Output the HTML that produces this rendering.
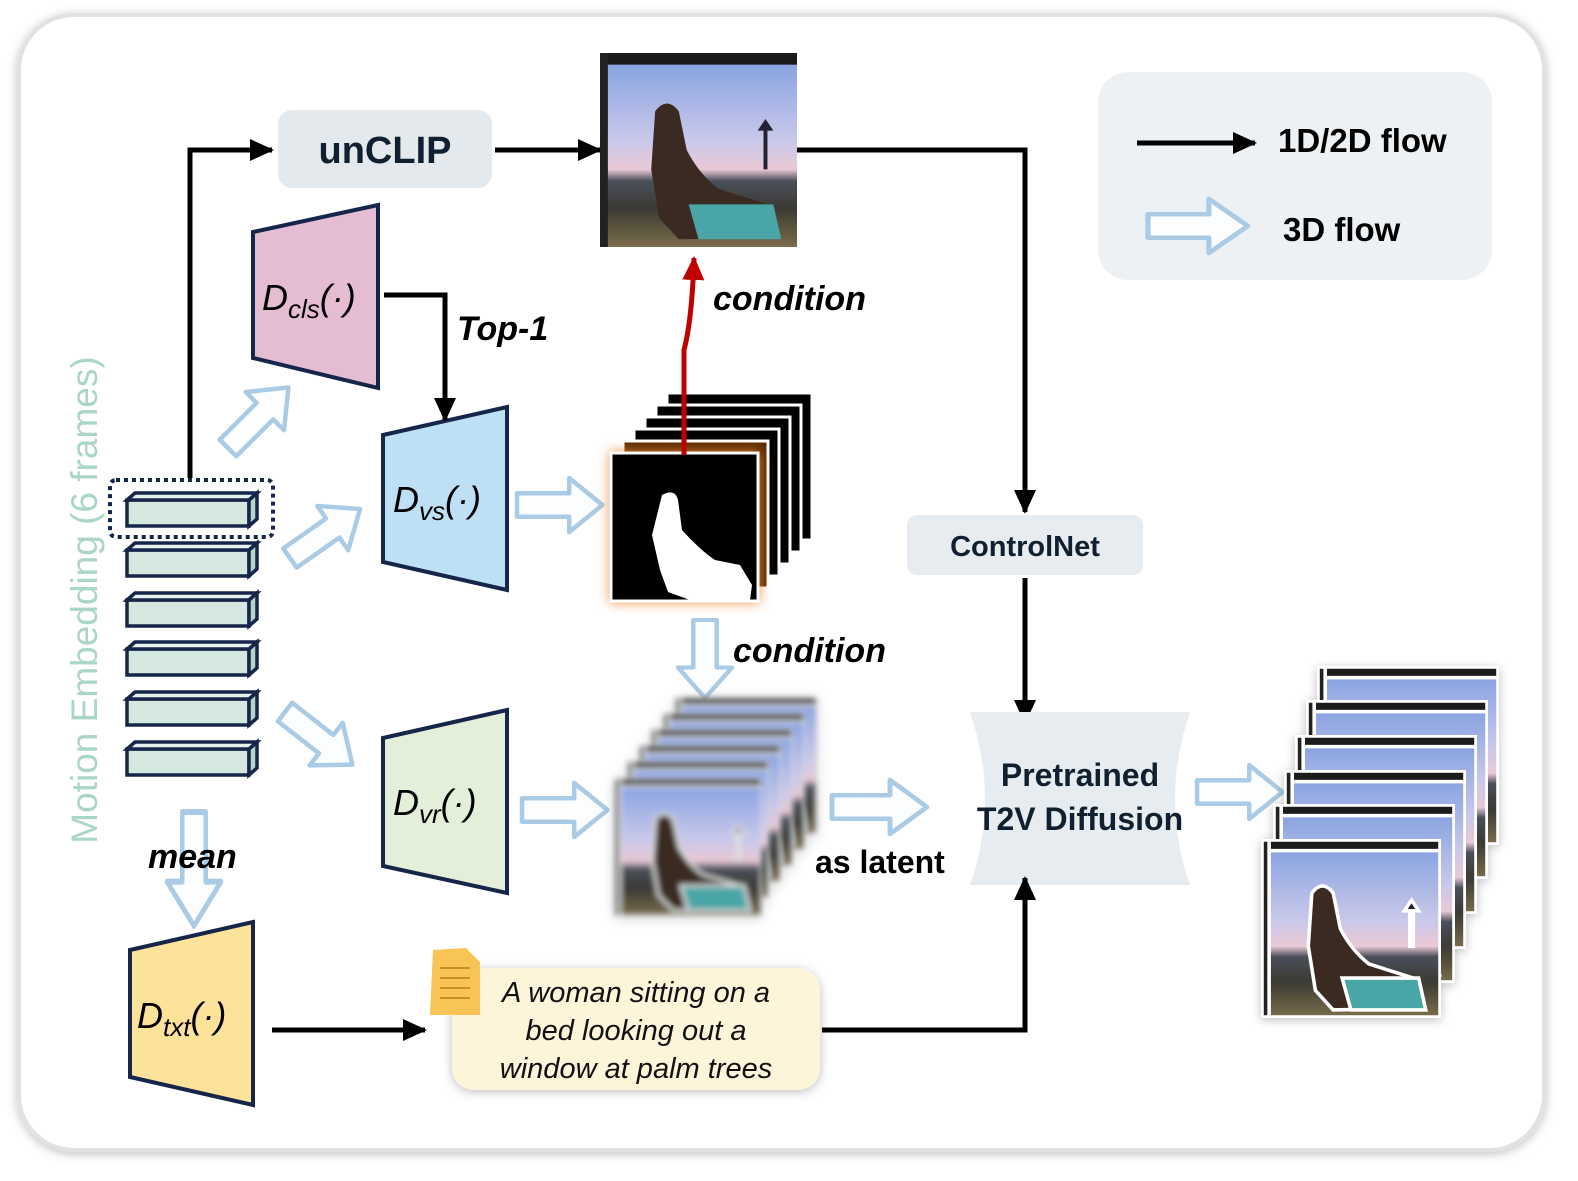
<!DOCTYPE html>
<html><head><meta charset="utf-8"><style>
html,body{margin:0;padding:0;background:#fff;}
svg{display:block;}
text{font-family:"Liberation Sans",sans-serif;}
</style></head><body>
<svg width="1578" height="1181" viewBox="0 0 1578 1181" xmlns="http://www.w3.org/2000/svg">
<defs>
 <filter id="sh" x="-10%" y="-10%" width="120%" height="120%"><feDropShadow dx="0" dy="2" stdDeviation="5" flood-color="#000" flood-opacity="0.25"/></filter>
 <filter id="blur"><feGaussianBlur stdDeviation="3"/></filter>
 <filter id="og"><feDropShadow dx="0" dy="0" stdDeviation="6" flood-color="#f08a3a" flood-opacity="0.9"/></filter>
 <linearGradient id="sky" x1="0" y1="0" x2="0" y2="1">
  <stop offset="0" stop-color="#7f9ee0"/><stop offset="0.45" stop-color="#c9c8ea"/><stop offset="0.6" stop-color="#e9c9d6"/><stop offset="0.66" stop-color="#4a4f5a"/><stop offset="0.8" stop-color="#3b3a34"/><stop offset="1" stop-color="#7a6d4a"/>
 </linearGradient>
 <symbol id="photo" viewBox="0 0 100 100" preserveAspectRatio="none">
  <rect width="100" height="100" fill="url(#sky)"/>
  <rect width="100" height="6" fill="#1a1a1a"/>
  <rect x="0" y="0" width="4" height="100" fill="#222"/>
  <path d="M28 30 Q34 22 40 30 L44 50 Q50 62 60 70 L85 78 L90 95 L40 96 L30 85 L26 60Z" fill="#3a2a22"/>
  <path d="M45 78 L88 78 L92 96 L50 96Z" fill="#4aa6a6"/>
  <path d="M80 40 l4 -6 l4 6 l-3 0 l0 20 l-2 0 l0 -20z" fill="#223"/>
 </symbol>
 <g id="harrow">
  <path d="M0 -13 L58 -13 L58 -30 L95 0 L58 30 L58 13 L0 13 Z" fill="#fbfdff" stroke="#a9cbe6" stroke-width="5" stroke-linejoin="round"/>
 </g>
 <marker id="ah" markerWidth="10" markerHeight="10" refX="8" refY="5" orient="auto" markerUnits="userSpaceOnUse" viewBox="0 0 10 10"><path d="M0 0 L10 5 L0 10Z" fill="#000"/></marker>
 <marker id="ahb" markerWidth="24" markerHeight="22" refX="22" refY="11" orient="auto" markerUnits="userSpaceOnUse"><path d="M0 0 L24 11 L0 22Z" fill="#000"/></marker>
 <marker id="ahr" markerWidth="24" markerHeight="22" refX="22" refY="11" orient="auto" markerUnits="userSpaceOnUse"><path d="M0 0 L24 11 L0 22Z" fill="#c00000"/></marker>
</defs>

<rect x="19" y="15" width="1525" height="1135" rx="55" fill="#fff" stroke="#e2e2e2" stroke-width="4" filter="url(#sh)"/>

<!-- legend -->
<rect x="1098" y="72" width="394" height="208" rx="30" fill="#eef1f4"/>
<line x1="1137" y1="143" x2="1255" y2="143" stroke="#000" stroke-width="5" marker-end="url(#ahb)"/>
<text x="1278" y="152" font-size="33" font-weight="bold">1D/2D flow</text>
<use href="#harrow" transform="translate(1148,226) scale(1.05,0.9)"/>
<text x="1283" y="241" font-size="33" font-weight="bold">3D flow</text>

<!-- unCLIP -->
<rect x="278" y="110" width="214" height="78" rx="14" fill="#e3e9ed"/>
<text x="385" y="163" font-size="38" font-weight="bold" text-anchor="middle" fill="#102030">unCLIP</text>
<polyline points="190,478 190,150 272,150" fill="none" stroke="#000" stroke-width="5" marker-end="url(#ahb)"/>
<line x1="495" y1="150" x2="600" y2="150" stroke="#000" stroke-width="5" marker-end="url(#ahb)"/>
<use href="#photo" x="600" y="53" width="197" height="194"/>
<polyline points="797,150 1025,150 1025,512" fill="none" stroke="#000" stroke-width="5" marker-end="url(#ahb)"/>

<!-- decoders -->
<polygon points="253,232 378,205 378,388 253,358" fill="#e5bdd3" stroke="#16254a" stroke-width="4"/>
<text x="262" y="310" font-size="36" font-family="Liberation Serif" font-style="italic">D<tspan font-size="26" dy="8">cls</tspan><tspan dy="-8">(·)</tspan></text>
<polygon points="383,435 507,407 507,590 383,562" fill="#bde0f5" stroke="#16254a" stroke-width="4"/>
<text x="393" y="512" font-size="36" font-family="Liberation Serif" font-style="italic">D<tspan font-size="26" dy="8">vs</tspan><tspan dy="-8">(·)</tspan></text>
<polygon points="383,738 507,710 507,893 383,866" fill="#e3efd9" stroke="#16254a" stroke-width="4"/>
<text x="393" y="815" font-size="36" font-family="Liberation Serif" font-style="italic">D<tspan font-size="26" dy="8">vr</tspan><tspan dy="-8">(·)</tspan></text>
<polygon points="130,950 253,922 253,1105 130,1077" fill="#fde29a" stroke="#16254a" stroke-width="4"/>
<text x="137" y="1028" font-size="36" font-family="Liberation Serif" font-style="italic">D<tspan font-size="26" dy="8">txt</tspan><tspan dy="-8">(·)</tspan></text>

<polyline points="384,295 445,295 445,420" fill="none" stroke="#000" stroke-width="5" marker-end="url(#ahb)"/>
<text x="457" y="340" font-size="34" font-weight="bold" font-style="italic" font-family="Liberation Serif">Top-1</text>

<!-- embeddings -->
<g stroke="#16254a" stroke-width="3.5" fill="#d4e8df">
 <g id="bar"><rect x="127" y="500" width="122" height="26"/><polygon points="249,500 257,493 257,519 249,526" fill="#b9d5c9"/><polygon points="127,500 135,493 257,493 249,500" fill="#e5f1ec"/></g>
 <use href="#bar" y="50"/><use href="#bar" y="100"/><use href="#bar" y="149"/><use href="#bar" y="199"/><use href="#bar" y="249"/>
</g>
<rect x="110" y="480" width="163" height="57" rx="6" fill="none" stroke="#16254a" stroke-width="4" stroke-dasharray="4,4"/>
<text transform="translate(97,600) rotate(-90)" font-size="37" fill="#a9d6c8" text-anchor="middle" font-family="Liberation Serif">Motion Embedding (6 frames)</text>

<!-- hollow arrows -->
<use href="#harrow" transform="translate(228,448) rotate(-45) scale(0.9)"/>
<use href="#harrow" transform="translate(290,558) rotate(-35) scale(0.9)"/>
<use href="#harrow" transform="translate(285,712) rotate(38) scale(0.9)"/>
<use href="#harrow" transform="translate(194,812) rotate(90) scale(1.2,0.9)"/>
<use href="#harrow" transform="translate(517,505) scale(0.9)"/>
<use href="#harrow" transform="translate(522,810) scale(0.9)"/>
<use href="#harrow" transform="translate(705,620) rotate(90) scale(0.82,0.9)"/>
<use href="#harrow" transform="translate(832,807) scale(1,0.9)"/>
<use href="#harrow" transform="translate(1197,792) scale(0.9)"/>

<text x="148" y="868" font-size="34" font-weight="bold" font-style="italic" font-family="Liberation Serif">mean</text>

<!-- mask stack -->
<g stroke="#fff" stroke-width="3">
 <rect x="667" y="393" width="145" height="147" fill="#000"/>
 <rect x="656" y="405" width="145" height="147" fill="#000"/>
 <rect x="645" y="417" width="145" height="147" fill="#000"/>
 <rect x="634" y="429" width="145" height="147" fill="#000"/>
 <rect x="623" y="441" width="145" height="147" fill="#5a2a00"/>
 <rect x="611" y="453" width="147" height="148" fill="#000" filter="url(#og)"/>
</g>
<path d="M662 495 Q675 488 678 500 L682 530 Q700 550 715 560 L740 565 L752 585 L750 600 L690 600 L668 592 L660 570 L652 535 Z" fill="#fff"/>
<path d="M684 455 L684 350 Q692 320 694 258" fill="none" stroke="#c00000" stroke-width="5" marker-end="url(#ahr)"/>
<text x="713" y="310" font-size="34" font-weight="bold" font-style="italic" font-family="Liberation Serif">condition</text>
<text x="733" y="662" font-size="34" font-weight="bold" font-style="italic" font-family="Liberation Serif">condition</text>

<!-- blurred stack -->
<g filter="url(#sh)">
 <g stroke="#ddd" stroke-width="2">
 <use href="#photo" x="675" y="697" width="142" height="137" filter="url(#blur)"/>
 <use href="#photo" x="663" y="713" width="142" height="137" filter="url(#blur)"/>
 <use href="#photo" x="651" y="729" width="142" height="137" filter="url(#blur)"/>
 <use href="#photo" x="639" y="745" width="142" height="137" filter="url(#blur)"/>
 <use href="#photo" x="627" y="761" width="142" height="137" filter="url(#blur)"/>
 <use href="#photo" x="614" y="778" width="148" height="138" filter="url(#blur)"/>
 </g>
</g>
<text x="815" y="873" font-size="32" font-weight="bold">as latent</text>

<!-- ControlNet -->
<rect x="907" y="515" width="236" height="60" rx="10" fill="#e6ecef"/>
<text x="1025" y="556" font-size="29" font-weight="bold" text-anchor="middle" fill="#102030">ControlNet</text>
<line x1="1025" y1="578" x2="1025" y2="722" stroke="#000" stroke-width="5" marker-end="url(#ahb)"/>
<path d="M970 712 L1190 712 Q1160 800 1190 885 L970 885 Q1000 800 970 712Z" fill="#e6ecef"/>
<text x="1080" y="786" font-size="32" font-weight="bold" text-anchor="middle" fill="#102030">Pretrained</text>
<text x="1080" y="830" font-size="32" font-weight="bold" text-anchor="middle" fill="#102030">T2V Diffusion</text>

<!-- text prompt -->
<line x1="272" y1="1030" x2="425" y2="1030" stroke="#000" stroke-width="5" marker-end="url(#ahb)"/>
<rect x="452" y="968" width="368" height="122" rx="22" fill="#fdf5d9" filter="url(#sh)"/>
<path d="M433 950 L466 948 L480 962 L480 1015 L430 1015Z" fill="#f7c455"/>
<g stroke="#c8902a" stroke-width="2"><line x1="440" y1="968" x2="470" y2="968"/><line x1="440" y1="978" x2="470" y2="978"/><line x1="440" y1="988" x2="470" y2="988"/><line x1="440" y1="998" x2="470" y2="998"/></g>
<g font-size="29" font-style="italic" text-anchor="middle" font-family="Liberation Serif" fill="#111">
<text x="636" y="1002">A woman sitting on a</text>
<text x="636" y="1040">bed looking out a</text>
<text x="636" y="1078">window at palm trees</text>
</g>
<polyline points="822,1030 1025,1030 1025,878" fill="none" stroke="#000" stroke-width="5" marker-end="url(#ahb)"/>

<!-- output stack -->
<g stroke="#fff" stroke-width="2" filter="url(#sh)">
 <rect x="1318" y="667" width="180" height="177" fill="#000"/><use href="#photo" x="1318" y="667" width="180" height="177"/>
 <rect x="1307" y="701" width="180" height="177" fill="#000"/><use href="#photo" x="1307" y="701" width="180" height="177"/>
 <rect x="1296" y="736" width="180" height="177" fill="#000"/><use href="#photo" x="1296" y="736" width="180" height="177"/>
 <rect x="1285" y="771" width="180" height="177" fill="#000"/><use href="#photo" x="1285" y="771" width="180" height="177"/>
 <rect x="1274" y="805" width="180" height="177" fill="#000"/><use href="#photo" x="1274" y="805" width="180" height="177"/>
 <rect x="1262" y="840" width="178" height="177" fill="#000"/><use href="#photo" x="1262" y="840" width="178" height="177"/>
</g>
</svg>
</body></html>
